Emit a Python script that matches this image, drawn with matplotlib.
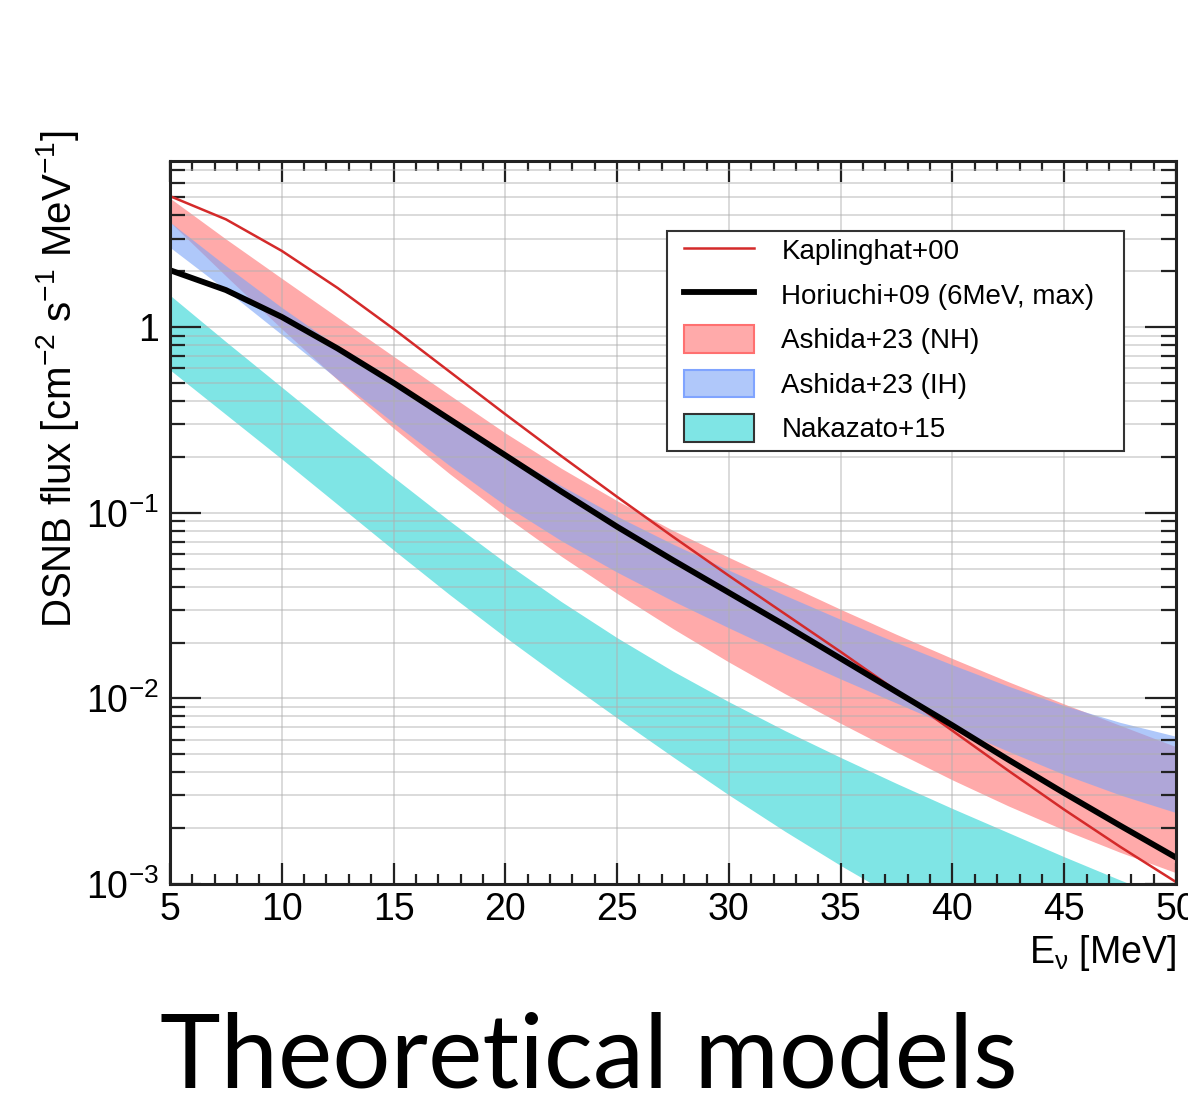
import numpy as np
import matplotlib
matplotlib.use('Agg')
import matplotlib.pyplot as plt
from matplotlib.lines import Line2D
from matplotlib.patches import Patch, Rectangle
from matplotlib.ticker import LogLocator, FixedLocator, FixedFormatter, MultipleLocator, NullFormatter

plt.rcParams['font.family'] = ['Liberation Sans', 'DejaVu Sans']
plt.rcParams['mathtext.fontset'] = 'custom'
plt.rcParams['mathtext.rm'] = 'Liberation Sans'
plt.rcParams['mathtext.it'] = 'Liberation Sans:italic'
plt.rcParams['mathtext.sf'] = 'Liberation Sans'

energy = [5, 7.5, 10, 12.5, 15, 17.5, 20, 22.5, 25, 27.5, 30,
          32.5, 35, 37.5, 40, 42.5, 45, 47.5, 50]

# log10 of the DSNB flux [cm^-2 s^-1 MeV^-1]
log_kaplinghat = [0.706, 0.581, 0.411, 0.211, -0.009, -0.239, -0.469, -0.694, -0.914, -1.129, -1.339,
                  -1.544, -1.749, -1.959, -2.174, -2.389, -2.599, -2.799, -2.989]
log_horiuchi = [0.307, 0.20, 0.055, -0.115, -0.30, -0.495, -0.69, -0.885, -1.075, -1.255, -1.43,
                -1.605, -1.785, -1.965, -2.145, -2.33, -2.51, -2.685, -2.857]
log_nh_upper = [0.695, 0.475, 0.263, 0.053, -0.157, -0.365, -0.57, -0.76, -0.935, -1.095, -1.24,
                -1.38, -1.52, -1.655, -1.785, -1.91, -2.03, -2.145, -2.26]
log_nh_lower = [0.566, 0.276, -0.009, -0.284, -0.544, -0.789, -1.019, -1.234, -1.434, -1.624, -1.804,
                -1.974, -2.134, -2.289, -2.439, -2.579, -2.709, -2.829, -2.939]
log_ih_upper = [0.566, 0.331, 0.106, -0.104, -0.304, -0.494, -0.679, -0.854, -1.019, -1.169, -1.309,
                -1.444, -1.574, -1.699, -1.819, -1.934, -2.039, -2.129, -2.204]
log_ih_lower = [0.43, 0.20, -0.04, -0.28, -0.515, -0.745, -0.96, -1.15, -1.32, -1.475, -1.62,
                -1.76, -1.895, -2.025, -2.155, -2.285, -2.41, -2.52, -2.615]
log_nakazato_upper = [0.172, -0.078, -0.323, -0.568, -0.808, -1.043, -1.268, -1.478, -1.673, -1.853, -2.018,
                      -2.173, -2.318, -2.458, -2.593, -2.723, -2.853, -2.978, -3.098]
log_nakazato_lower = [-0.23, -0.47, -0.71, -0.955, -1.2, -1.44, -1.67, -1.89, -2.105, -2.315, -2.52,
                      -2.715, -2.9, -3.075, -3.24, -3.395, -3.54, -3.675, -3.8]

labels = ['Kaplinghat+00', 'Horiuchi+09 (6MeV, max)', 'Ashida+23 (NH)',
          'Ashida+23 (IH)', 'Nakazato+15']

red = '#d42a2a'
pink = '#ffaaaa'
blue = '#7da5f7'
blue_alpha = 0.61
cyan = '#7fe5e5'

def flux(logs):
    return 10.0 ** np.array(logs)

fig = plt.figure(figsize=(11.88, 11.03), dpi=100)
ax = fig.add_axes([0.1431, 0.1985, 0.8468, 0.6555])

# bands
ax.fill_between(energy, flux(log_nakazato_lower), flux(log_nakazato_upper),
                color=cyan, linewidth=0, zorder=1)
ax.fill_between(energy, flux(log_nh_lower), flux(log_nh_upper),
                color=pink, linewidth=0, zorder=1)
ax.fill_between(energy, flux(log_ih_lower), flux(log_ih_upper),
                color=blue, alpha=blue_alpha, linewidth=0, zorder=1.1)

# lines
ax.plot(energy, flux(log_kaplinghat), color=red, linewidth=1.8, zorder=2)
ax.plot(energy, flux(log_horiuchi), color='black', linewidth=4.2, zorder=2.1)

ax.set_yscale('log')
ax.set_xlim(5, 50)
ax.set_ylim(1e-3, 10 ** 0.895)

# ticks
ax.xaxis.set_major_locator(MultipleLocator(5))
ax.xaxis.set_minor_locator(MultipleLocator(1))
ax.yaxis.set_major_locator(FixedLocator([1e-3, 1e-2, 1e-1, 1]))
ax.yaxis.set_major_formatter(FixedFormatter([r'$10^{-3}$', r'$10^{-2}$', r'$10^{-1}$', '1']))
ax.yaxis.set_minor_locator(LogLocator(base=10, subs=np.arange(2, 10), numticks=20))
ax.yaxis.set_minor_formatter(NullFormatter())

ax.tick_params(axis='both', which='both', direction='in', top=True, right=True,
               width=1.6, colors='#222222', labelcolor='black')
ax.tick_params(axis='x', which='major', length=15, labelsize=27, pad=6)
ax.tick_params(axis='x', which='minor', length=7.5)
ax.tick_params(axis='y', which='major', length=22, labelsize=27, pad=8)
ax.tick_params(axis='y', which='minor', length=11)

for spine in ax.spines.values():
    spine.set_linewidth(2.2)
    spine.set_color('#222222')

# grid (drawn over the bands, under the lines)
ax.set_axisbelow('line')
ax.grid(True, axis='x', which='major', color='#b0b0b0', alpha=0.5, linewidth=1.3)
ax.grid(True, axis='y', which='both', color='#b0b0b0', alpha=0.5, linewidth=1.3)

ax.set_ylabel(r'DSNB flux [cm$^{-2}$ s$^{-1}$ MeV$^{-1}$]', fontsize=29, loc='top')
ax.yaxis.set_label_coords(-0.088, 1.043)
ax.set_xlabel(r'E$_{\mathrm{\nu}}$ [MeV]', fontsize=27, loc='right')
ax.xaxis.set_label_coords(1.0, -0.068)

# legend: frame drawn separately so the padding matches
ax.add_patch(Rectangle((0.494, 0.599), 0.454, 0.304, transform=ax.transAxes,
                       facecolor='white', edgecolor='#333333', linewidth=1.5, zorder=4))
handles = [
    Line2D([], [], color=red, linewidth=1.8),
    Line2D([], [], color='black', linewidth=4.2),
    Patch(facecolor=pink, edgecolor='#ff7070', linewidth=1.5),
    Patch(facecolor='#b0c8fa', edgecolor='#80a4ff', linewidth=1.5),
    Patch(facecolor=cyan, edgecolor='#333333', linewidth=1.5),
]
leg = ax.legend(handles, labels, loc='upper left', bbox_to_anchor=(0.511, 0.896),
                borderaxespad=0, borderpad=0, fontsize=20, frameon=False,
                handlelength=2.5, handleheight=1.15, handletextpad=1.0,
                labelspacing=0.55)
leg.set_zorder(5)

fig.text(0.496, 0.0145, 'Theoretical models', fontsize=74, family='Lato',
         ha='center', va='baseline')

fig.savefig('out.png', dpi=100)
